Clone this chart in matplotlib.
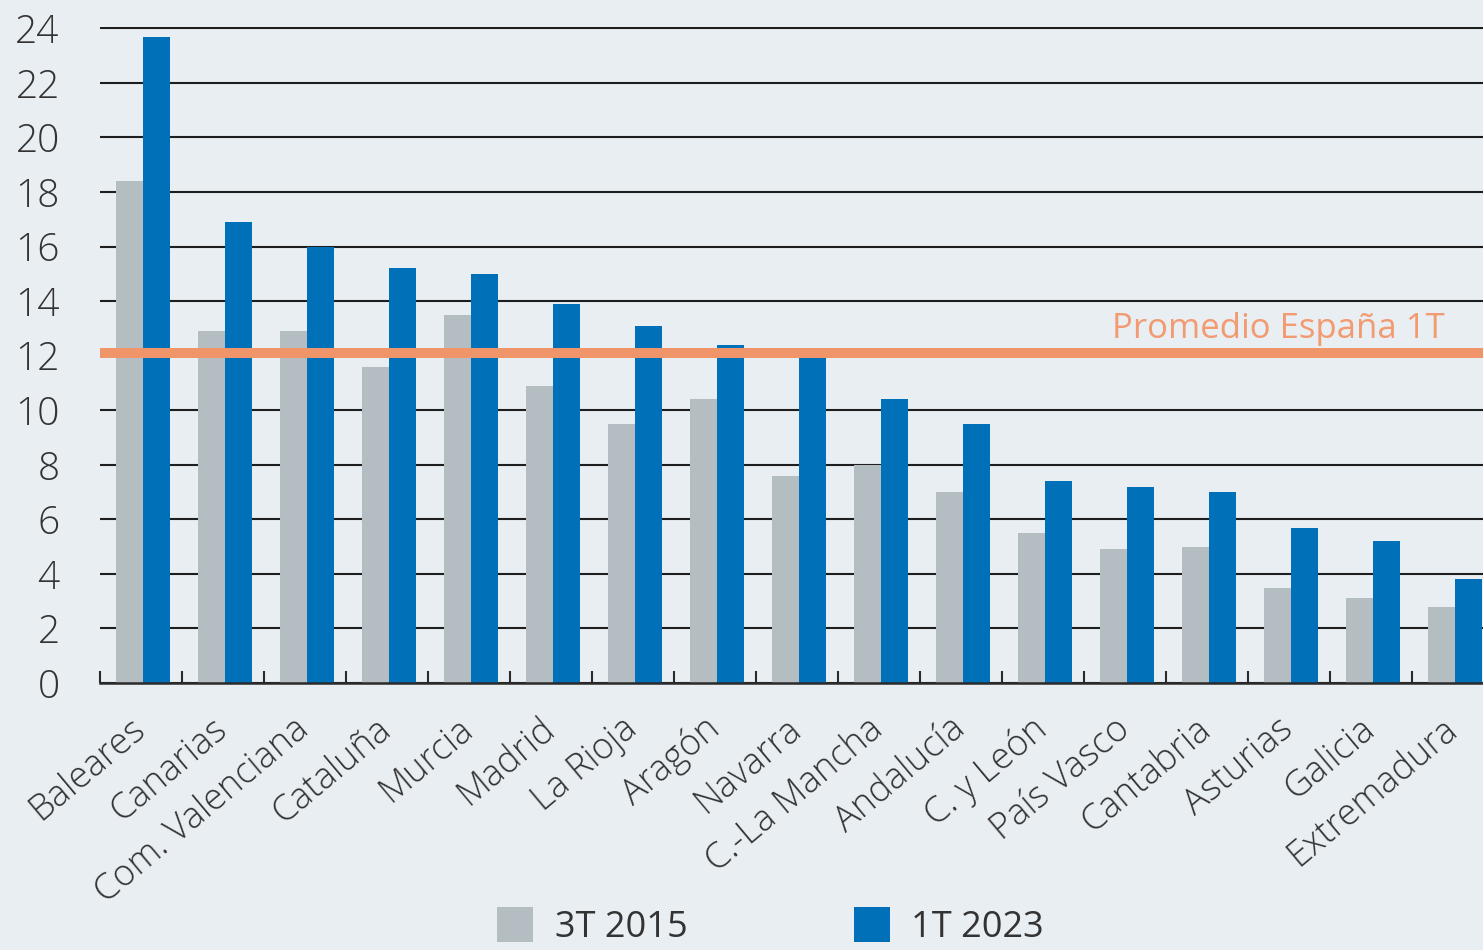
import numpy as np
import matplotlib.pyplot as plt

plt.rcParams['font.family'] = ['Open Sans', 'DejaVu Sans']

# Datos por comunidad autónoma
regiones = ['Baleares', 'Canarias', 'Com. Valenciana', 'Cataluña', 'Murcia',
            'Madrid', 'La Rioja', 'Aragón', 'Navarra', 'C.-La Mancha',
            'Andalucía', 'C. y León', 'País Vasco', 'Cantabria', 'Asturias',
            'Galicia', 'Extremadura']
t3_2015 = [18.4, 12.9, 12.9, 11.6, 13.5, 10.9, 9.5, 10.4, 7.6, 8.0,
           7.0, 5.5, 4.9, 5.0, 3.5, 3.1, 2.8]
t1_2023 = [23.7, 16.9, 16.0, 15.2, 15.0, 13.9, 13.1, 12.4, 12.1, 10.4,
           9.5, 7.4, 7.2, 7.0, 5.7, 5.2, 3.8]
promedio_espana = 12.1
yticks = list(range(0, 25, 2))

bg = '#e9eef3'
gris = '#b3bdc2'
azul = '#0071b9'
naranja = '#f0956a'
texto = '#333333'

fig = plt.figure(figsize=(14.83, 9.5), dpi=100)
fig.patch.set_facecolor(bg)
# the axes run past the right edge on purpose: the last group is cut off
ax = fig.add_axes([100 / 1483, 267 / 950, 1394 / 1483, 656 / 950])
ax.set_facecolor(bg)

x = np.arange(len(regiones))
w = 0.33
ax.bar(x - w / 2 + 0.02, t3_2015, w, color=gris, zorder=2, label='3T 2015')
ax.bar(x + w / 2 + 0.02, t1_2023, w, color=azul, zorder=2, label='1T 2023')

# linea del promedio
ax.axhline(promedio_espana, color=naranja, lw=7.2, zorder=3,
           solid_capstyle='round')
ax.text(15.9, promedio_espana + 0.55, 'Promedio España 1T', color='#f29a70',
        fontsize=25, ha='right', va='baseline', zorder=4)

ax.set_xlim(-0.5, 16.5)
ax.set_ylim(0, 24.05)
ax.set_yticks(yticks)
ax.yaxis.grid(True, color='#1e1e1e', lw=1.5)
ax.set_axisbelow(True)

for s in ['top', 'right', 'left']:
    ax.spines[s].set_visible(False)
ax.spines['bottom'].set_color('#2a2a2a')
ax.spines['bottom'].set_linewidth(1.8)
ax.spines['bottom'].set_zorder(5)

ax.tick_params(axis='y', length=0, pad=29, labelsize=28, labelcolor=texto)
for lbl in ax.get_yticklabels():
    lbl.set_fontweight('light')
ax.set_xticks(x)
ax.set_xticklabels(regiones, rotation=40, ha='right', va='center',
                   rotation_mode='anchor', fontsize=26, color=texto,
                   fontweight='light')
ax.set_xticks(x - 0.5, minor=True)
ax.tick_params(axis='x', which='major', length=0, pad=30)
ax.tick_params(axis='x', which='minor', direction='in', length=9,
               width=1.5, color='#2a2a2a')

handles, labels = ax.get_legend_handles_labels()
fig.legend(handles, labels, loc='upper left',
           bbox_to_anchor=(497 / 1483, 1 - 907 / 950), ncol=2,
           frameon=False, fontsize=26, handlelength=1.0, handleheight=1.1,
           handletextpad=0.6, columnspacing=4.6, borderpad=0,
           borderaxespad=0, labelcolor=texto)

fig.savefig('out.png', dpi=100, facecolor=bg)
